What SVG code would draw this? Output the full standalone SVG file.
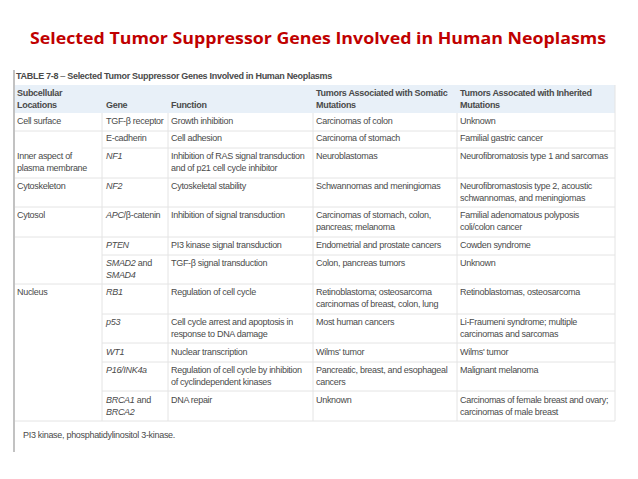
<svg xmlns="http://www.w3.org/2000/svg" width="638" height="479" viewBox="0 0 638 479">
<style>
.t{font-family:"Liberation Sans",Arial,sans-serif;font-size:9px;letter-spacing:-0.3px;fill:#4a4a4a}
.h{font-family:"Liberation Sans",Arial,sans-serif;font-size:9px;letter-spacing:-0.3px;font-weight:bold;fill:#4a4a4a}
.i{font-style:italic}
.ln{stroke:#e4e4e4;stroke-width:1}
</style>
<rect width="638" height="479" fill="#fff"/>
<text x="30" y="44" font-family="'Open Sans','Liberation Sans',sans-serif" font-size="15.5" font-weight="bold" fill="#c00000" textLength="576" lengthAdjust="spacingAndGlyphs">Selected Tumor Suppressor Genes Involved in Human Neoplasms</text>
<g id="table">
<line x1="14" y1="70" x2="14" y2="452" stroke="#999" stroke-width="1.2"/>
<text class="h" x="16" y="79">TABLE 7-8 <tspan font-weight="normal">  – </tspan>Selected Tumor Suppressor Genes Involved in Human Neoplasms</text>
<rect x="15" y="85" width="600" height="28" fill="#e8f0f8"/>
<text class="h" x="17" y="96">Subcellular</text><text class="h" x="17" y="108">Locations</text>
<text class="h" x="106" y="108">Gene</text>
<text class="h" x="171" y="108">Function</text>
<text class="h" x="316" y="96">Tumors Associated with Somatic</text><text class="h" x="316" y="108">Mutations</text>
<text class="h" x="460" y="96">Tumors Assocated with Inherited</text><text class="h" x="460" y="108">Mutations</text>
<g class="ln">
<line x1="15" y1="131" x2="615" y2="131"/>
<line x1="102" y1="148" x2="615" y2="148"/>
<line x1="15" y1="178" x2="615" y2="178"/>
<line x1="15" y1="207" x2="615" y2="207"/>
<line x1="15" y1="237" x2="615" y2="237"/>
<line x1="102" y1="255" x2="615" y2="255"/>
<line x1="15" y1="284" x2="615" y2="284"/>
<line x1="102" y1="314" x2="615" y2="314"/>
<line x1="102" y1="343" x2="615" y2="343"/>
<line x1="102" y1="362" x2="615" y2="362"/>
<line x1="102" y1="391" x2="615" y2="391"/>
<line x1="15" y1="421" x2="615" y2="421"/>
<line x1="102" y1="113" x2="102" y2="421"/>
<line x1="168" y1="113" x2="168" y2="421"/>
<line x1="313" y1="113" x2="313" y2="421"/>
<line x1="457" y1="113" x2="457" y2="421"/>
<line x1="615" y1="85" x2="615" y2="421"/>
</g>
<text class="t" x="17" y="124">Cell surface</text>
<text class="t" x="106" y="124">TGF-β receptor</text>
<text class="t" x="171" y="124">Growth inhibition</text>
<text class="t" x="316" y="124">Carcinomas of colon</text>
<text class="t" x="460" y="124">Unknown</text>
<text class="t" x="106" y="141">E-cadherin</text>
<text class="t" x="171" y="141">Cell adhesion</text>
<text class="t" x="316" y="141">Carcinoma of stomach</text>
<text class="t" x="460" y="141">Familial gastric cancer</text>
<text class="t" x="17" y="159">Inner aspect of</text><text class="t" x="17" y="171">plasma membrane</text>
<text class="t i" x="106" y="159">NF1</text>
<text class="t" x="171" y="159">Inhibition of RAS signal transduction</text><text class="t" x="171" y="171">and of p21 cell cycle inhibitor</text>
<text class="t" x="316" y="159">Neuroblastomas</text>
<text class="t" x="460" y="159">Neurofibromatosis type 1 and sarcomas</text>
<text class="t" x="17" y="189">Cytoskeleton</text>
<text class="t i" x="106" y="189">NF2</text>
<text class="t" x="171" y="189">Cytoskeletal stability</text>
<text class="t" x="316" y="189">Schwannomas and meningiomas</text>
<text class="t" x="460" y="189">Neurofibromastosis type 2, acoustic</text><text class="t" x="460" y="201">schwannomas, and meningiomas</text>
<text class="t" x="17" y="218">Cytosol</text>
<text class="t" x="106" y="218"><tspan class="i">APC</tspan>/β-catenin</text>
<text class="t" x="171" y="218">Inhibition of signal transduction</text>
<text class="t" x="316" y="218">Carcinomas of stomach, colon,</text><text class="t" x="316" y="230">pancreas; melanoma</text>
<text class="t" x="460" y="218">Familial adenomatous polyposis</text><text class="t" x="460" y="230">coli/colon cancer</text>
<text class="t i" x="106" y="248">PTEN</text>
<text class="t" x="171" y="248">PI3 kinase signal transduction</text>
<text class="t" x="316" y="248">Endometrial and prostate cancers</text>
<text class="t" x="460" y="248">Cowden syndrome</text>
<text class="t" x="106" y="266"><tspan class="i">SMAD2</tspan> and</text><text class="t i" x="106" y="278">SMAD4</text>
<text class="t" x="171" y="266">TGF-β signal transduction</text>
<text class="t" x="316" y="266">Colon, pancreas tumors</text>
<text class="t" x="460" y="266">Unknown</text>
<text class="t" x="17" y="295">Nucleus</text>
<text class="t i" x="106" y="295">RB1</text>
<text class="t" x="171" y="295">Regulation of cell cycle</text>
<text class="t" x="316" y="295">Retinoblastoma; osteosarcoma</text><text class="t" x="316" y="307">carcinomas of breast, colon, lung</text>
<text class="t" x="460" y="295">Retinoblastomas, osteosarcoma</text>
<text class="t i" x="106" y="325">p53</text>
<text class="t" x="171" y="325">Cell cycle arrest and apoptosis in</text><text class="t" x="171" y="337">response to DNA damage</text>
<text class="t" x="316" y="325">Most human cancers</text>
<text class="t" x="460" y="325">Li-Fraumeni syndrome; multiple</text><text class="t" x="460" y="337">carcinomas and sarcomas</text>
<text class="t i" x="106" y="355">WT1</text>
<text class="t" x="171" y="355">Nuclear transcription</text>
<text class="t" x="316" y="355">Wilms' tumor</text>
<text class="t" x="460" y="355">Wilms' tumor</text>
<text class="t i" x="106" y="373">P16/INK4a</text>
<text class="t" x="171" y="373">Regulation of cell cycle by inhibition</text><text class="t" x="171" y="385">of cyclindependent kinases</text>
<text class="t" x="316" y="373">Pancreatic, breast, and esophageal</text><text class="t" x="316" y="385">cancers</text>
<text class="t" x="460" y="373">Malignant melanoma</text>
<text class="t" x="106" y="403"><tspan class="i">BRCA1</tspan> and</text><text class="t i" x="106" y="415">BRCA2</text>
<text class="t" x="171" y="403">DNA repair</text>
<text class="t" x="316" y="403">Unknown</text>
<text class="t" x="460" y="403">Carcinomas of female breast and ovary;</text><text class="t" x="460" y="415">carcinomas of male breast</text>
<text class="t" x="23" y="438">PI3 kinase, phosphatidylinositol 3-kinase.</text>
</g>
</svg>
